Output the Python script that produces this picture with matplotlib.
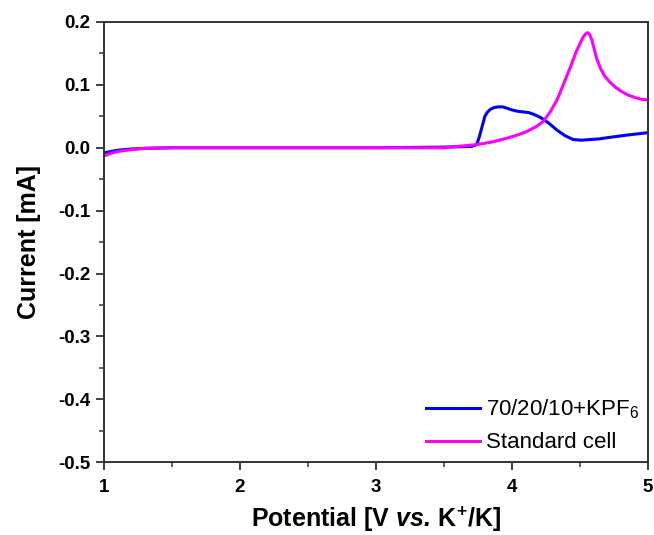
import matplotlib
matplotlib.use("Agg")
import matplotlib.pyplot as plt
from matplotlib.ticker import MultipleLocator, FormatStrFormatter

plt.rcParams['font.family'] = ['Liberation Sans', 'DejaVu Sans']
plt.rcParams['mathtext.fontset'] = 'custom'
plt.rcParams['mathtext.rm'] = 'Liberation Sans'
plt.rcParams['mathtext.it'] = 'Liberation Sans:italic'
plt.rcParams['mathtext.bf'] = 'Liberation Sans:bold'
plt.rcParams['mathtext.bfit'] = 'Liberation Sans:italic:bold'

# 70/20/10+KPF6
blue_x = [1.00, 1.05, 1.10, 1.20, 1.30, 1.50, 2.00, 2.50, 3.00, 3.50, 3.70, 3.74,
          3.76, 3.78, 3.80, 3.82, 3.84, 3.87, 3.90, 3.93, 3.96, 4.00, 4.04, 4.08,
          4.12, 4.16, 4.21, 4.27, 4.33, 4.39, 4.45, 4.51, 4.57, 4.64, 4.70, 4.77,
          4.84, 4.92, 5.00]
blue_y = [-0.008, -0.006, -0.004, -0.002, -0.001, 0.000, 0.000, 0.000, 0.000, 0.001, 0.002, 0.005,
          0.018, 0.034, 0.050, 0.057, 0.061, 0.064, 0.065, 0.065, 0.063, 0.060, 0.058, 0.057,
          0.056, 0.053, 0.048, 0.039, 0.028, 0.019, 0.013, 0.012, 0.013, 0.014, 0.016, 0.018,
          0.020, 0.022, 0.024]

# Standard cell
mag_x = [1.00, 1.05, 1.10, 1.20, 1.30, 1.50, 2.00, 2.50, 3.00, 3.50, 3.74, 3.85,
         3.96, 4.05, 4.11, 4.18, 4.23, 4.28, 4.33, 4.38, 4.43, 4.47, 4.50, 4.52,
         4.54, 4.555, 4.57, 4.585, 4.60, 4.62, 4.65, 4.68, 4.72, 4.76, 4.80, 4.85,
         4.90, 4.95, 5.00]
mag_y = [-0.013, -0.009, -0.006, -0.003, -0.001, 0.000, 0.000, 0.000, 0.000, 0.000, 0.005, 0.009,
         0.015, 0.021, 0.026, 0.034, 0.042, 0.057, 0.076, 0.102, 0.129, 0.152, 0.166, 0.175,
         0.181, 0.183, 0.180, 0.172, 0.160, 0.143, 0.126, 0.114, 0.104, 0.096, 0.090, 0.084,
         0.080, 0.077, 0.076]

labels = [r"70/20/10+KPF$_6$", "Standard cell"]
colors = ["#0000FF", "#FF00FF"]

fig = plt.figure(figsize=(6.54, 5.35), dpi=100)
ax = fig.add_axes([0.159, 0.136, 0.832, 0.823])

ax.plot(blue_x, blue_y, color=colors[0], lw=2.2, label=labels[0])
ax.plot(mag_x, mag_y, color=colors[1], lw=2.2, label=labels[1])

ax.set_xlim(1, 5)
ax.set_ylim(-0.5, 0.2)
ax.xaxis.set_major_locator(MultipleLocator(1))
ax.xaxis.set_minor_locator(MultipleLocator(0.5))
ax.yaxis.set_major_locator(MultipleLocator(0.1))
ax.yaxis.set_minor_locator(MultipleLocator(0.05))
ax.yaxis.set_major_formatter(FormatStrFormatter('%.1f'))

ax.tick_params(which='major', direction='out', length=6, width=1.3, labelsize=13.5,
               color='#333333')
ax.tick_params(axis='x', which='major', pad=6)
ax.tick_params(axis='y', which='major', pad=4)
ax.tick_params(which='minor', direction='out', length=3.5, width=1.1, color='#333333')
for lbl in ax.get_xticklabels() + ax.get_yticklabels():
    lbl.set_fontweight('bold')
for sp in ax.spines.values():
    sp.set_linewidth(1.4)
    sp.set_color('#333333')

ax.set_xlabel(r"Potential [V $\mathbfit{vs.}\,\mathbf{K}^{\mathbf{+}}$/K]", fontsize=18,
              fontweight='bold', labelpad=6)
ax.set_ylabel("Current [mA]", fontsize=18, fontweight='bold', labelpad=12)

ax.legend(loc='lower right', frameon=False, fontsize=16, handlelength=2.4,
          handletextpad=0.3, labelspacing=0.5, borderaxespad=0.2, borderpad=0.2)

fig.savefig("out.png", dpi=100)
